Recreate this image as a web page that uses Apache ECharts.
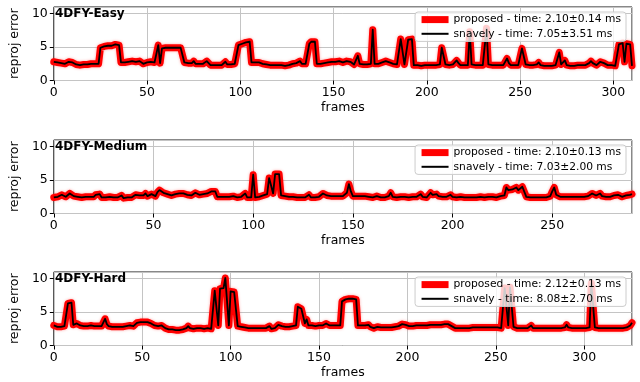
<!DOCTYPE html>
<html>
<head>
<meta charset="utf-8">
<script src="https://cdn.jsdelivr.net/npm/echarts@6/dist/echarts.min.js"></script>
<style>
	html, body { margin: 0; padding: 0; background: #fff; }
	#chart { width: 640px; height: 382px; }
</style>
</head>
<body>
<div id="chart"></div>
<script>
// reprojection error per frame (both methods overlap)
const easyErrors = [
	2.8, 2.8, 2.7, 2.7, 2.6, 2.6, 2.5, 2.6, 2.8, 2.8,
	2.7, 2.5, 2.4, 2.4, 2.3, 2.3, 2.4, 2.5, 2.4, 2.5,
	2.5, 2.4, 2.5, 2.5, 2.5, 4.9, 5.0, 5.1, 5.1, 5.2,
	5.2, 5.2, 5.3, 5.4, 5.3, 5.3, 2.7, 2.7, 2.7, 2.7,
	2.8, 2.6, 2.9, 2.7, 2.8, 2.6, 2.9, 2.7, 2.5, 2.6,
	2.7, 2.8, 2.8, 2.7, 2.7, 2.8, 5.3, 2.6, 4.8, 4.9,
	4.9, 4.9, 4.9, 4.9, 4.9, 4.9, 4.9, 4.9, 4.9, 4.8,
	2.7, 2.6, 2.6, 2.5, 2.6, 2.9, 2.5, 2.4, 2.5, 2.6,
	2.5, 2.7, 2.9, 2.6, 2.3, 2.3, 2.3, 2.3, 2.3, 2.3,
	2.3, 2.5, 2.8, 2.4, 2.2, 2.4, 2.5, 2.5, 2.5, 5.3,
	5.4, 5.5, 5.6, 5.7, 5.7, 5.8, 2.7, 2.7, 2.7, 2.8,
	2.7, 2.6, 2.5, 2.4, 2.4, 2.3, 2.3, 2.3, 2.3, 2.3,
	2.3, 2.3, 2.3, 2.2, 2.2, 2.3, 2.3, 2.3, 2.5, 2.4,
	2.6, 2.5, 2.9, 2.5, 2.6, 2.5, 2.6, 5.5, 5.8, 5.9,
	5.8, 2.5, 2.4, 2.5, 2.5, 2.6, 2.6, 2.7, 2.8, 2.8,
	2.8, 2.8, 2.8, 2.9, 2.8, 2.7, 2.7, 2.9, 3.0, 2.8,
	2.6, 2.4, 2.4, 3.7, 2.5, 2.4, 2.4, 2.4, 2.4, 2.4,
	2.5, 7.6, 2.5, 2.5, 2.5, 2.6, 2.7, 2.8, 2.9, 2.8,
	2.7, 2.6, 2.5, 2.5, 2.4, 2.4, 6.2, 6.3, 2.4, 2.3,
	6.1, 6.3, 6.2, 2.3, 2.3, 2.3, 2.3, 2.2, 2.3, 2.3,
	2.3, 2.3, 2.3, 2.3, 2.3, 2.3, 2.3, 2.4, 4.9, 5.0,
	2.4, 2.3, 2.3, 2.3, 2.4, 2.6, 3.0, 2.6, 2.3, 2.3,
	2.3, 2.3, 2.3, 7.3, 2.4, 2.3, 2.3, 2.3, 2.3, 2.3,
	2.3, 2.4, 7.8, 2.4, 2.3, 2.3, 2.3, 2.3, 2.3, 2.3,
	2.3, 2.3, 2.5, 3.3, 2.6, 2.3, 2.3, 2.3, 2.3, 2.3,
	2.4, 4.8, 4.8, 2.4, 2.3, 2.3, 2.3, 2.3, 2.3, 2.4,
	2.7, 2.3, 2.2, 2.2, 2.2, 2.2, 2.2, 2.2, 2.2, 2.3,
	2.4, 4.2, 2.4, 2.4, 3.0, 2.3, 2.2, 2.2, 2.2, 2.2,
	2.3, 2.3, 2.3, 2.3, 2.3, 2.3, 2.4, 2.6, 2.9, 2.6,
	2.4, 2.3, 2.5, 2.8, 3.0, 2.6, 2.4, 2.3, 2.3, 2.3,
	2.2, 2.2, 2.3, 5.4, 5.6, 5.6, 2.8, 5.5, 5.5, 5.4,
	2.2
];

const mediumErrors = [
	2.4, 2.4, 2.5, 2.6, 2.8, 2.6, 2.5, 2.6, 3.0, 2.9,
	2.6, 2.5, 2.5, 2.5, 2.4, 2.5, 2.5, 2.4, 2.5, 2.4,
	2.5, 2.8, 3.0, 2.9, 2.4, 2.4, 2.4, 2.4, 2.5, 2.4,
	2.4, 2.5, 2.4, 2.4, 2.7, 2.3, 2.3, 2.4, 2.3, 2.4,
	2.5, 2.8, 2.7, 2.7, 2.8, 2.7, 3.0, 2.6, 2.7, 2.9,
	3.1, 2.6, 3.2, 3.5, 3.3, 3.1, 3.0, 2.9, 2.8, 2.7,
	2.9, 2.9, 3.0, 3.0, 2.9, 3.0, 2.9, 2.8, 2.6, 2.7,
	2.8, 3.1, 3.1, 2.8, 2.8, 2.9, 2.9, 3.0, 3.0, 3.3,
	3.2, 3.3, 2.5, 2.5, 2.5, 2.5, 2.5, 2.5, 2.5, 2.5,
	2.6, 2.4, 2.4, 2.4, 2.5, 2.6, 3.0, 2.4, 2.4, 2.4,
	5.8, 2.4, 2.4, 2.5, 2.6, 2.7, 2.8, 2.9, 5.3, 5.4,
	3.0, 5.9, 5.9, 5.9, 2.7, 2.6, 2.6, 2.6, 2.5, 2.5,
	2.5, 2.4, 2.4, 2.4, 2.4, 2.4, 2.4, 2.5, 2.8, 2.4,
	2.4, 2.4, 2.4, 2.5, 2.6, 3.0, 3.1, 2.7, 2.6, 2.6,
	2.6, 2.6, 2.6, 2.6, 2.6, 2.6, 2.7, 3.1, 4.4, 3.3,
	2.6, 2.7, 2.6, 2.6, 2.6, 2.5, 2.6, 2.6, 2.5, 2.5,
	2.4, 2.4, 2.6, 2.4, 2.4, 2.4, 2.4, 2.4, 2.6, 3.1,
	2.5, 2.4, 2.4, 2.4, 2.5, 2.5, 2.5, 2.4, 2.4, 2.4,
	2.5, 2.5, 2.5, 2.6, 2.9, 2.5, 2.5, 2.4, 2.6, 3.1,
	2.8, 2.7, 2.9, 2.6, 2.8, 2.5, 2.4, 2.5, 2.4, 2.8,
	2.5, 2.4, 2.4, 2.4, 2.5, 2.5, 2.4, 2.4, 2.4, 2.5,
	2.4, 2.4, 2.4, 2.4, 2.5, 2.5, 2.4, 2.4, 2.5, 2.5,
	2.5, 2.5, 2.4, 2.5, 2.6, 2.7, 2.7, 3.9, 3.5, 3.5,
	3.6, 3.5, 3.9, 3.5, 3.5, 4.0, 3.9, 2.5, 2.4, 2.4,
	2.4, 2.4, 2.4, 2.4, 2.4, 2.4, 2.4, 2.4, 2.5, 2.6,
	3.3, 3.9, 2.8, 2.6, 2.5, 2.5, 2.5, 2.5, 2.5, 2.5,
	2.5, 2.5, 2.5, 2.5, 2.5, 2.5, 2.5, 2.6, 2.6, 2.7,
	3.0, 2.9, 2.7, 2.8, 3.0, 2.6, 2.5, 2.5, 2.6, 2.5,
	2.5, 2.7, 2.8, 2.8, 2.6, 2.5, 2.6, 2.7, 2.6, 2.8,
	2.9
];

const hardErrors = [
	3.0, 2.9, 2.8, 2.8, 2.8, 2.8, 2.9, 3.0, 6.3, 6.4,
	6.4, 3.1, 3.0, 3.3, 3.2, 3.0, 2.9, 2.9, 2.9, 2.9,
	2.9, 3.0, 3.1, 2.9, 3.0, 2.9, 3.0, 2.9, 3.1, 4.0,
	3.2, 2.9, 2.8, 2.8, 2.8, 2.8, 2.8, 2.8, 2.8, 2.8,
	2.9, 2.9, 3.0, 3.0, 3.1, 2.9, 3.0, 3.4, 3.5, 3.5,
	3.5, 3.5, 3.5, 3.5, 3.5, 3.3, 3.2, 3.0, 3.1, 2.9,
	2.9, 3.0, 2.8, 2.6, 2.5, 2.4, 2.4, 2.4, 2.3, 2.3,
	2.3, 2.3, 2.4, 2.4, 2.5, 2.6, 2.9, 2.6, 2.5, 2.5,
	2.6, 2.6, 2.6, 2.6, 2.5, 2.5, 2.6, 2.6, 2.6, 2.5,
	2.7, 8.2, 8.4, 3.0, 8.5, 8.7, 8.6, 10.1, 10.3, 3.0,
	8.1, 8.1, 8.0, 8.0, 2.9, 2.9, 2.8, 2.8, 2.7, 2.7,
	2.6, 2.6, 2.6, 2.6, 2.6, 2.6, 2.6, 2.6, 2.6, 2.6,
	2.6, 2.7, 2.9, 2.5, 2.5, 2.6, 2.8, 3.1, 3.3, 2.9,
	2.8, 2.8, 2.8, 2.8, 2.8, 2.9, 2.9, 3.0, 5.8, 5.6,
	5.5, 5.4, 3.3, 3.9, 3.0, 2.8, 3.0, 3.2, 2.9, 3.0,
	3.0, 3.0, 3.0, 3.1, 3.3, 3.2, 3.0, 3.0, 3.0, 3.0,
	3.0, 3.0, 3.0, 6.6, 6.7, 6.9, 7.0, 7.0, 6.9, 7.0,
	7.0, 6.9, 3.0, 3.1, 3.0, 3.1, 3.0, 2.9, 3.1, 2.8,
	2.7, 2.6, 2.8, 2.8, 2.7, 2.7, 2.7, 2.7, 2.7, 2.7,
	2.7, 2.7, 2.7, 2.8, 2.8, 2.9, 3.0, 3.2, 3.3, 3.1,
	3.0, 2.9, 2.9, 2.9, 3.0, 3.0, 3.0, 3.0, 3.0, 3.0,
	3.0, 3.0, 3.1, 3.1, 3.1, 3.1, 3.1, 3.1, 3.1, 3.1,
	3.2, 3.2, 3.2, 3.2, 3.3, 2.9, 2.7, 2.6, 2.6, 2.6,
	2.6, 2.6, 2.6, 2.6, 2.6, 2.6, 2.6, 2.7, 2.7, 2.7,
	2.7, 2.7, 2.8, 2.7, 2.7, 2.7, 2.7, 2.7, 2.7, 2.7,
	2.7, 2.7, 2.7, 2.6, 2.7, 8.6, 8.6, 3.0, 8.7, 8.5,
	2.8, 2.7, 2.6, 2.6, 2.6, 2.6, 2.6, 2.6, 2.6, 2.7,
	3.0, 2.6, 2.6, 2.6, 2.6, 2.6, 2.6, 2.6, 2.6, 2.6,
	2.6, 2.6, 2.6, 2.6, 2.6, 2.6, 2.6, 2.6, 2.7, 2.7,
	3.1, 2.7, 2.6, 2.6, 2.6, 2.6, 2.6, 2.6, 2.6, 2.6,
	2.6, 2.6, 2.7, 2.7, 9.3, 9.2, 2.7, 2.6, 2.6, 2.6,
	2.6, 2.6, 2.6, 2.6, 2.6, 2.6, 2.6, 2.6, 2.6, 2.6,
	2.6, 2.6, 2.6, 2.6, 2.7, 2.6, 3.0, 3.4
];

const panelErrors = [ easyErrors, mediumErrors, hardErrors ];
const panelTitles = [ '4DFY-Easy', '4DFY-Medium', '4DFY-Hard' ];
const proposedNames = [
	'proposed - time: 2.10±0.14 ms',
	'proposed - time: 2.10±0.13 ms',
	'proposed - time: 2.12±0.13 ms'
];
const snavelyNames = [
	'snavely - time: 7.05±3.51 ms',
	'snavely - time: 7.03±2.00 ms',
	'snavely - time: 8.08±2.70 ms'
];

const FONT = 'DejaVu Sans';
const panelTops = [ 7, 140, 272 ];
const panelHeight = 73.5;

const chart = echarts.init( document.getElementById( 'chart' ), null, { renderer: 'canvas' } );

const option = {
	animation: false,
	backgroundColor: '#fff',
	title: [],
	legend: [],
	grid: [],
	xAxis: [],
	yAxis: [],
	series: []
};

panelErrors.forEach( ( errors, i ) => {
	const top = panelTops[ i ];
	const points = errors.map( ( v, k ) => [ k, v ] );

	option.grid.push( {
		left: 50,
		right: 8,
		top: top,
		height: panelHeight,
		show: true,
		borderColor: '#111',
		borderWidth: 1
	} );

	option.xAxis.push( {
		type: 'value',
		gridIndex: i,
		min: 0,
		max: errors.length - 1,
		interval: 50,
		name: 'frames',
		nameLocation: 'middle',
		nameGap: 21,
		nameTextStyle: { fontFamily: FONT, fontSize: 12.5, color: '#000' },
		axisLine: { show: false },
		axisTick: { show: true, length: 4, lineStyle: { color: '#000' } },
		axisLabel: { fontFamily: FONT, fontSize: 12.5, color: '#000', margin: 6, showMaxLabel: false },
		splitLine: { show: true, lineStyle: { color: '#c4c4c4', width: 1 } }
	} );

	option.yAxis.push( {
		type: 'value',
		gridIndex: i,
		min: 0,
		max: 11,
		interval: 5,
		name: 'reproj error',
		nameLocation: 'middle',
		nameGap: 22,
		nameTextStyle: { fontFamily: FONT, fontSize: 12.5, color: '#000' },
		axisLine: { show: false },
		axisTick: { show: true, length: 4, lineStyle: { color: '#000' } },
		axisLabel: { fontFamily: FONT, fontSize: 12.5, color: '#000', margin: 6, showMaxLabel: false },
		splitLine: { show: true, lineStyle: { color: '#c4c4c4', width: 1 } }
	} );

	option.title.push( {
		text: panelTitles[ i ],
		left: 55,
		top: top + 1,
		padding: 0,
		textStyle: { fontFamily: FONT, fontSize: 12, fontWeight: 'bold', color: '#000' }
	} );

	// legend shows plain line swatches, the symbol is hidden
	option.legend.push( {
		right: 14,
		top: top + 5,
		orient: 'vertical',
		itemWidth: 27,
		itemHeight: 14,
		itemGap: 3,
		padding: [ 2, 5, 2, 3 ],
		selectedMode: false,
		backgroundColor: 'rgba(255,255,255,0.8)',
		borderColor: '#cccccc',
		borderWidth: 1,
		borderRadius: 3,
		textStyle: { fontFamily: FONT, fontSize: 10.7, color: '#000' },
		data: [
			{ name: proposedNames[ i ], itemStyle: { opacity: 0 }, lineStyle: { width: 7, opacity: 1, cap: 'butt' } },
			{ name: snavelyNames[ i ], itemStyle: { opacity: 0 }, lineStyle: { width: 2, opacity: 1, cap: 'butt' } }
		]
	} );

	option.series.push( {
		type: 'line',
		name: proposedNames[ i ],
		xAxisIndex: i,
		yAxisIndex: i,
		data: points,
		symbol: 'none',
		z: 2,
		color: '#ff0000',
		lineStyle: { color: '#ff0000', width: 7, join: 'round', cap: 'round', shadowColor: 'rgba(255,0,0,0.35)', shadowBlur: 3 }
	} );

	option.series.push( {
		type: 'line',
		name: snavelyNames[ i ],
		xAxisIndex: i,
		yAxisIndex: i,
		data: points,
		symbol: 'none',
		z: 3,
		color: '#000000',
		lineStyle: { color: '#000000', width: 1.8, join: 'round' }
	} );
} );

chart.setOption( option );
</script>
</body>
</html>
